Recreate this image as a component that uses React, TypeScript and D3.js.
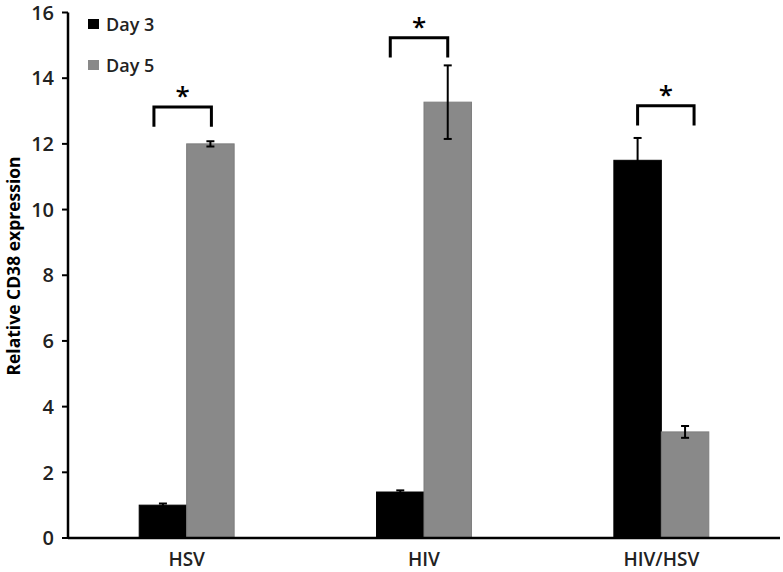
import * as d3 from 'd3';

const categories = ['HSV', 'HIV', 'HIV/HSV'];
const seriesNames = ['Day 3', 'Day 5'];
const day3 = [1.0, 1.4, 11.5];
const day3Err = [0.05, 0.05, 0.68];
const day5 = [12.0, 13.27, 3.23];
const day5Err = [0.08, 1.12, 0.18];
const yTicks = [0, 2, 4, 6, 8, 10, 12, 14, 16];
// significance brackets: top of each bracket in data units
const bracketTop = [13.12, 15.23, 13.16];
const bracketDrop = 0.6;

const W = 783;
const H = 572;
const margin = { left: 68, right: 3, top: 12.5, bottom: 34 };
const colors = ['#000000', '#898989'];

export default function App() {
  const x0 = d3
    .scaleBand<string>()
    .domain(categories)
    .range([margin.left, W - margin.right])
    .padding(0);
  const x1 = d3
    .scaleBand<string>()
    .domain(seriesNames)
    .range([x0.bandwidth() * 0.3, x0.bandwidth() * 0.7])
    .padding(0);
  const y = d3
    .scaleLinear()
    .domain([0, 16])
    .range([H - margin.bottom, margin.top]);

  const values = [day3, day5];
  const errs = [day3Err, day5Err];
  const font = "'Open Sans', sans-serif";

  return (
    <svg
      width={W}
      height={H}
      style={{ position: 'absolute', left: 0, top: 0, background: '#fff' }}
      fontFamily={font}
    >
      {/* bars */}
      {categories.map((c, i) =>
        seriesNames.map((s, j) => {
          const v = values[j][i];
          const bx = x0(c)! + x1(s)!;
          const bw = x1.bandwidth();
          const cx = bx + bw / 2;
          const e = errs[j][i];
          return (
            <g key={c + s}>
              <rect
                x={bx}
                y={y(v)}
                width={bw}
                height={y(0) - y(v)}
                fill={colors[j]}
                stroke={j === 0 ? '#000' : '#7d7d7d'}
                strokeWidth={1}
              />
              <g stroke="#000" strokeWidth={2}>
                <line x1={cx} x2={cx} y1={y(v - e)} y2={y(v + e)} />
                <line x1={cx - 4} x2={cx + 4} y1={y(v + e)} y2={y(v + e)} />
                <line x1={cx - 4} x2={cx + 4} y1={y(v - e)} y2={y(v - e)} />
              </g>
            </g>
          );
        })
      )}

      {/* significance brackets */}
      {categories.map((c, i) => {
        const offs = [-9, -10, 0][i];
        const offsR = [1, 0, 9][i];
        const l = x0(c)! + x1(seriesNames[0])! + x1.bandwidth() / 2 + offs;
        const r = x0(c)! + x1(seriesNames[1])! + x1.bandwidth() / 2 + offsR;
        const t = bracketTop[i];
        return (
          <g key={'br' + c}>
            <path
              d={`M${l},${y(t - bracketDrop)}V${y(t)}H${r}V${y(t - bracketDrop)}`}
              fill="none"
              stroke="#000"
              strokeWidth={3}
            />
            <text
              x={(l + r) / 2}
              y={y(t) - 2}
              textAnchor="middle"
              fontSize={26}
              fontWeight={600}
            >
              *
            </text>
          </g>
        );
      })}

      {/* y axis */}
      <line
        x1={margin.left}
        x2={margin.left}
        y1={y(16)}
        y2={y(0)}
        stroke="#000"
        strokeWidth={2.5}
      />
      {yTicks.map(t => (
        <g key={t}>
          <line
            x1={margin.left - 6}
            x2={margin.left}
            y1={y(t)}
            y2={y(t)}
            stroke="#000"
            strokeWidth={2}
          />
          <text
            x={margin.left - 14}
            y={y(t)}
            dy="0.36em"
            textAnchor="end"
            fontSize={20}
            fontWeight={600}
            fill="#222"
          >
            {t}
          </text>
        </g>
      ))}

      {/* x axis */}
      <line
        x1={margin.left}
        x2={W - margin.right}
        y1={y(0)}
        y2={y(0)}
        stroke="#000"
        strokeWidth={2.5}
      />
      {categories.map(c => (
        <text
          key={'lab' + c}
          x={x0(c)! + x0.bandwidth() / 2}
          y={y(0) + 28}
          textAnchor="middle"
          fontSize={19}
          fontWeight={600}
          fill="#222"
        >
          {c}
        </text>
      ))}

      <text
        transform={`translate(20,266) rotate(-90)`}
        textAnchor="middle"
        fontSize={17.5}
        fontWeight={700}
      >
        Relative CD38 expression
      </text>

      {/* legend */}
      {seriesNames.map((s, j) => (
        <g key={'lg' + s} transform={`translate(88,${19 + j * 41})`}>
          <rect width={11} height={10} fill={colors[j]} />
          <text x={18} y={12} fontSize={18} fontWeight={600} fill="#222">
            {s}
          </text>
        </g>
      ))}
    </svg>
  );
}
